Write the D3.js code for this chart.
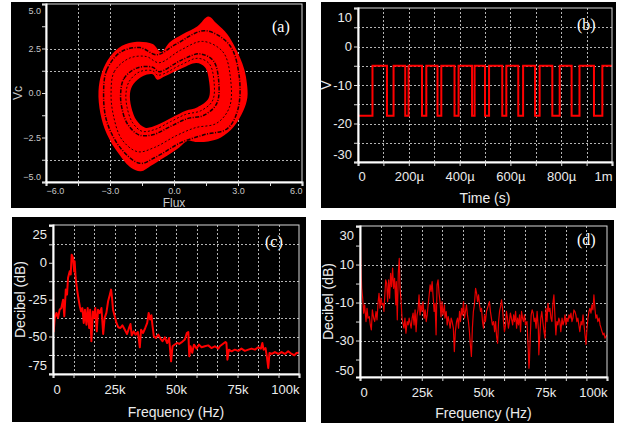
<!DOCTYPE html>
<html>
<head>
<meta charset="utf-8">
<script src="https://cdn.jsdelivr.net/npm/d3@7"></script>
<style>
  body { margin: 0; background: #fff; }
  svg { display: block; }
  text { font-family: "Liberation Sans", Arial, sans-serif; }
</style>
</head>
<body>
<svg id="fig" width="628" height="428"></svg>
<script>
// ---------- data ----------

// (a) phase portrait, Flux vs Vc
const fluxTicks = [-6, -3, 0, 3, 6];
const vcTicks = [5, 2.5, 0, -2.5, -5];
const attractorOuter = [[1.61, 4.3], [2.0, 3.9], [2.5, 3.3], [2.85, 2.6], [3.09, 2.0], [3.3, 1.3], [3.42, 0.5],
  [3.44, -0.25], [3.25, -1.0], [2.8, -1.9], [2.2, -2.5], [1.6, -2.72], [1.0, -2.75], [0.65, -2.68], [0.2, -3.1],
  [-0.5, -3.65], [-1.1, -4.1], [-1.55, -4.4], [-2.0, -4.22], [-2.6, -3.4], [-3.15, -2.3], [-3.45, -1.15],
  [-3.54, 0.1], [-3.38, 1.15], [-3.0, 2.03], [-2.44, 2.65], [-1.74, 2.88], [-1.0, 2.75], [-0.6, 2.3],
  [-0.2, 2.85], [0.4, 3.3], [1.1, 3.75]];
const attractorHole = [[-2.06, 0.0], [-1.9, 0.5], [-1.45, 0.95], [-1.0, 1.05], [-0.78, 0.75], [-0.4, 0.95],
  [0.4, 1.4], [1.05, 1.68], [1.45, 1.45], [1.65, 0.6], [1.62, -0.3], [1.1, -0.8], [0.55, -1.0], [-0.05, -1.35],
  [-0.8, -1.8], [-1.35, -1.95], [-1.75, -1.55], [-2.0, -0.8]];
// dark gaps between the red orbits
const gapOrbit0 = [[-2.25, 0.0], [-2.1, 0.65], [-1.6, 1.2], [-1.0, 1.25], [-0.75, 1.0], [0.35, 1.6], [1.1, 1.95],
  [1.65, 1.65], [1.88, 0.6], [1.8, -0.45], [1.25, -1.0], [0.55, -1.2], [-0.15, -1.6], [-0.9, -2.05],
  [-1.5, -2.15], [-1.95, -1.65], [-2.2, -0.8]];
const gapOrbit1 = [[-2.5, 0.0], [-2.35, 0.8], [-1.75, 1.4], [-1.0, 1.45], [-0.7, 1.2], [0.35, 1.85], [1.2, 2.2],
  [1.85, 1.8], [2.1, 0.6], [2.0, -0.6], [1.4, -1.25], [0.6, -1.45], [-0.2, -1.9], [-1.0, -2.35], [-1.65, -2.35],
  [-2.2, -1.7], [-2.45, -0.8]];
const gapOrbit2 = [[-2.95, 0.0], [-2.8, 1.2], [-2.1, 1.95], [-1.3, 2.05], [-0.7, 1.7], [0.3, 2.4], [1.35, 2.9],
  [2.3, 2.3], [2.65, 0.8], [2.6, -0.8], [2.0, -1.7], [1.0, -1.95], [0.1, -2.4], [-0.9, -3.05], [-1.7, -3.3],
  [-2.45, -2.6], [-2.85, -1.2]];
const gapOrbit3 = [[-3.3, 0.0], [-3.15, 1.3], [-2.5, 2.3], [-1.6, 2.55], [-0.8, 2.15], [0.1, 2.75], [1.45, 3.5],
  [2.6, 2.7], [3.05, 1.0], [3.0, -0.9], [2.5, -2.0], [1.4, -2.35], [0.3, -2.8], [-0.85, -3.6], [-1.6, -3.95],
  [-2.5, -3.1], [-3.15, -1.6]];

// (b) switching waveform, time in microseconds
const timeTicks = [0, 200, 400, 600, 800, 1000];
const timeLabels = ['0', '200µ', '400µ', '600µ', '800µ', '1m'];
const voltTicks = [10, 0, -10, -20, -30];
const switchTimes = [0, 57, 114, 140, 186, 199, 252, 269, 313, 328, 380, 396, 449, 459, 500, 516,
  568, 584, 631, 650, 697, 715, 765, 794, 841, 872, 929, 962, 1000];
const switchLevels = [-18, -5, -18, -5, -18, -5, -18, -5, -18, -5, -18, -5, -18, -5, -18, -5,
  -18, -5, -18, -5, -18, -5, -18, -5, -18, -5, -18, -5, -5];

// (c), (d) spectra, frequency in kHz
const freqTicks = [0, 25, 50, 75, 100];
const freqLabels = ['0', '25k', '50k', '75k', '100k'];
const dbTicksC = [25, 0, -25, -50, -75];
const dbTicksD = [30, 10, -10, -30, -50];
const spectrumC = [[0, -17], [0.3, -46.5], [0.7, -37.4], [1.4, -34], [2.05, -37.4], [2.7, -31.8], [3.4, -30.7],
  [4.1, -25], [4.6, -36.3], [5.2, -18.2], [5.7, -21.6], [6.1, -10.3], [6.8, -5.8], [7.2, -8], [7.6, 5.5],
  [8.15, 3.3], [8.6, -5.8], [8.8, 1], [9.2, -10.3], [9.8, -18.2], [10.3, -23.9], [10.9, -29.5], [11.4, -32.9],
  [11.95, -30.7], [12.5, -40.8], [13, -31.8], [13.6, -42], [14.1, -30.7], [14.7, -44.2], [15.1, -31.8],
  [15.6, -53.2], [16.2, -33], [16.7, -37.4], [17.2, -30.7], [17.8, -46.5], [18.3, -31.8], [19, -34],
  [19.7, -30.7], [20.4, -48.3], [21, -37.4], [21.7, -34], [22.4, -26.1], [23.1, -21.6], [23.6, -18.2],
  [24, -23.9], [24.4, -31.8], [25.1, -36.3], [25.8, -40.8], [26.5, -43.7], [27.4, -44.2], [28.2, -42.4],
  [29.2, -45.4], [30.1, -48.3], [30.9, -44.2], [31.5, -41.5], [32, -49.2], [32.8, -46.5], [33.6, -48.7],
  [34.5, -46.9], [35.3, -57.3], [35.8, -45.4], [36.6, -47.6], [37.5, -44.2], [38.3, -40.8], [38.9, -34],
  [39.5, -38.5], [40, -35.6], [40.4, -42], [41, -49.9], [41.8, -51], [42.8, -48.7], [43.7, -51.4],
  [44.5, -53.2], [45.5, -50.5], [46.4, -54.4], [47.2, -51], [48, -66.8], [48.6, -56.6], [49.5, -55.4],
  [50.5, -54.4], [51.3, -55], [52.2, -54], [53.6, -52], [54.4, -47.6], [55, -46.9], [55.4, -63.4],
  [55.9, -56.6], [56.6, -61], [57.3, -55.5], [58.4, -58.2], [59.3, -55.5], [60.4, -57.3], [61.7, -56.6],
  [63.1, -56], [64.4, -57.8], [65.8, -56.6], [67.2, -58.2], [67.8, -56.6], [70.1, -53.7], [70.5, -54.4],
  [70.9, -65.7], [71.5, -58.9], [72.6, -60], [73.9, -58.9], [75.3, -59.7], [76.6, -58.2], [78, -59.7],
  [79.4, -58.9], [80.7, -58.2], [82.1, -58.9], [83.4, -57.3], [84.5, -58.2], [85.1, -54.4], [85.6, -58.9],
  [86.4, -57.8], [87, -64.5], [87.5, -71.3], [88, -61.2], [88.9, -61.8], [90.2, -60.5], [91.6, -61.8],
  [92.9, -60.5], [94.3, -61.8], [95.6, -60], [97, -61.8], [98.1, -62.7], [99, -61.2], [100, -61]];
const spectrumD = [[0, 28], [0.14, 24.7], [0.41, 8.1], [0.68, -2.5], [1.08, -7.7], [1.49, -15.6], [1.89, -11.2],
  [2.43, -20], [2.84, -13], [3.24, -18.2], [3.78, -17.4], [4.19, -21.8], [4.59, -24.4], [5.0, -13.9],
  [5.54, -18.2], [5.95, -20], [6.49, -14.7], [6.89, -19.1], [7.3, -10.4], [7.7, -5.1], [8.1, -13], [8.5, -7.7],
  [8.9, -11.2], [9.3, -10.4], [9.7, -14.7], [10.1, -5.1], [10.4, 1.9], [10.8, 0.2], [11.2, -9.5], [11.6, 1.9],
  [12.0, -7.7], [12.4, 5.4], [12.8, -1.6], [13.2, 8.1], [13.6, -2.5], [14.0, 2.8], [14.5, -11.2], [14.7, 1.0],
  [15.1, -19.1], [15.5, 5.4], [15.9, 13.3], [16.2, -2.5], [16.6, -8.6], [17.0, -18.2], [17.4, -20.9],
  [17.8, -23.5], [18.2, -18.2], [18.6, -26.1], [19.1, -20], [19.5, -21.8], [19.9, -18.2], [20.3, -20.9],
  [20.7, -23.5], [21.1, -18.2], [21.5, -15.6], [21.9, -21.8], [22.3, -13.9], [22.7, -25.3], [23.1, -16.5],
  [23.5, -13.9], [23.9, -6.0], [24.3, -16.5], [24.7, -11.2], [25.1, -14.7], [25.5, -9.5], [26.0, -18.2],
  [26.4, -13.9], [26.8, -20], [27.2, -16.5], [27.6, -11.2], [28.0, -6.0], [28.4, -0.7], [28.8, -4.2],
  [29.2, 1.0], [29.6, -6.8], [30.0, -14.7], [30.4, -10.4], [30.8, -27], [31.2, -0.7], [31.6, 1.9], [32.0, -5.1],
  [32.4, -9.5], [32.8, -17.4], [33.2, -9.5], [33.6, -16.5], [34.2, -11.2], [34.4, -18.2], [34.9, -14.7],
  [35.3, -21.8], [35.7, -17.4], [36.1, -20], [36.5, -23.5], [36.9, -18.2], [37.3, -20], [37.8, -23.5],
  [38.2, -35.8], [38.6, -25.3], [39.1, -20], [39.5, -18.2], [39.9, -23.5], [40.3, -14.7], [40.7, -20],
  [41.1, -13], [41.5, -16.5], [41.9, -9.5], [42.3, -18.2], [42.7, -14.7], [43.1, -11.2], [43.5, -16.5],
  [43.9, -20], [44.3, -25.3], [44.7, -32.3], [45.1, -38.4], [45.5, -23.5], [45.9, -14.7], [46.3, -11.2],
  [46.8, -2.5], [47.2, -5.1], [47.6, -9.5], [48.0, -6.0], [48.4, -11.2], [48.8, -14.7], [49.2, -13],
  [49.6, -20], [50.0, -23.5], [50.4, -16.5], [50.8, -20], [51.2, -14.7], [51.6, -13], [52.0, -11.2],
  [52.4, -9.5], [52.8, -14.7], [53.2, -18.2], [53.6, -21.8], [54.1, -20], [54.5, -25.3], [54.9, -20],
  [55.3, -27.9], [55.7, -31.4], [56.1, -20], [56.5, -14.7], [56.9, -12.1], [57.3, -8.6], [57.7, -13],
  [58.1, -20], [58.5, -25.3], [58.9, -21.8], [59.3, -14.7], [59.7, -18.2], [60.1, -23.5], [60.5, -20],
  [60.9, -15.6], [61.3, -18.2], [61.8, -21.8], [62.2, -16.5], [62.6, -20], [63.0, -14.7], [63.4, -23.5],
  [63.8, -18.2], [64.2, -21.8], [64.6, -16.5], [65.0, -25.3], [65.4, -14.7], [65.8, -18.2], [66.2, -20],
  [66.6, -16.5], [67.0, -21.8], [67.6, -20], [68.1, -34], [68.4, -44.6], [68.6, -41], [68.9, -28.8],
  [69.3, -16.5], [69.7, -13.9], [70.1, -15.6], [70.5, -20], [70.9, -18.2], [71.3, -23.5], [71.7, -14.7],
  [72.2, -23.5], [72.4, -37.5], [72.8, -27], [73.2, -18.2], [73.6, -14.7], [74.0, -20], [74.5, -25.3],
  [74.9, -28.8], [75.3, -13], [75.7, -20], [76.1, -10.4], [76.5, -14.7], [76.9, -13], [77.3, -18.2],
  [77.7, -20], [78.1, -10.4], [78.5, -6.0], [78.9, -16.5], [79.3, -27], [79.7, -20], [80.1, -21.8],
  [80.5, -18.2], [80.9, -20], [81.3, -25.3], [81.8, -18.2], [82.2, -21.8], [82.6, -20], [83.0, -16.5],
  [83.4, -21.8], [83.8, -18.2], [84.2, -20], [84.6, -16.5], [85.0, -18.2], [85.4, -15.6], [85.8, -20],
  [86.2, -18.2], [86.6, -13.9], [87.0, -14.7], [87.4, -16.5], [87.8, -20], [88.2, -18.2], [88.6, -21.8],
  [89.0, -25.3], [89.5, -20], [89.9, -21.8], [90.3, -16.5], [90.7, -21.8], [91.1, -27], [91.5, -32],
  [91.9, -23.5], [92.3, -18.2], [92.7, -14.7], [93.1, -13], [93.5, -15.6], [93.9, -11.2], [94.3, -13.9],
  [94.7, -6.0], [95.1, -13], [95.5, -18.2], [95.9, -16.5], [96.3, -20], [96.8, -18.2], [97.2, -21.8],
  [97.6, -23.5], [98.0, -25.3], [98.4, -27], [98.8, -26.1], [99.2, -28.8], [99.6, -27.9], [100, -27]];

// ---------- drawing ----------
const svg = d3.select('#fig');

function drawPanel(o) {
  let g = svg.append('g');
  g.append('rect')
    .attr('x', o.bg[0]).attr('y', o.bg[1])
    .attr('width', o.bg[2] - o.bg[0]).attr('height', o.bg[3] - o.bg[1])
    .attr('fill', '#000');

  let x = d3.scaleLinear().domain(o.xDomain).range([o.plot[0], o.plot[2]]);
  let y = d3.scaleLinear().domain(o.yDomain).range([o.plot[3], o.plot[1]]);

  // dotted grid
  let grid = g.append('g')
    .attr('stroke', '#b4b4b4')
    .attr('stroke-width', 1)
    .attr('stroke-dasharray', '2,2');
  grid.selectAll('.vx').data(o.xGrid).join('line')
    .attr('x1', d => Math.round(x(d)) + 0.5).attr('x2', d => Math.round(x(d)) + 0.5)
    .attr('y1', o.plot[1]).attr('y2', o.plot[3]);
  grid.selectAll('.hy').data(o.yGrid).join('line')
    .attr('y1', d => Math.round(y(d)) + 0.5).attr('y2', d => Math.round(y(d)) + 0.5)
    .attr('x1', o.plot[0]).attr('x2', o.plot[2]);

  let clipId = 'clip' + o.name;
  g.append('clipPath').attr('id', clipId)
    .append('rect')
    .attr('x', o.plot[0]).attr('y', o.plot[1])
    .attr('width', o.plot[2] - o.plot[0]).attr('height', o.plot[3] - o.plot[1]);
  let layer = g.append('g').attr('clip-path', `url(#${clipId})`);

  // frame
  g.append('rect')
    .attr('x', o.plot[0]).attr('y', o.plot[1])
    .attr('width', o.plot[2] - o.plot[0]).attr('height', o.plot[3] - o.plot[1])
    .attr('fill', 'none').attr('stroke', '#d8d8d8').attr('stroke-width', 1);

  // small tick marks
  let xAxis = g.append('g')
    .attr('transform', `translate(0, ${o.plot[3]})`)
    .call(d3.axisBottom(x).tickValues(o.xMinor).tickSize(4).tickFormat(''));
  let yAxis = g.append('g')
    .attr('transform', `translate(${o.plot[0]}, 0)`)
    .call(d3.axisLeft(y).tickValues(o.yMinor).tickSize(4).tickFormat(''));
  [xAxis, yAxis].forEach(a => {
    a.select('.domain').attr('stroke', '#fff').attr('stroke-width', 2);
    a.selectAll('.tick line').attr('stroke', '#ddd');
  });

  // tick labels
  let xl = g.append('g')
    .attr('transform', `translate(0, ${o.plot[3]})`)
    .call(d3.axisBottom(x).tickValues(o.xTicks).tickSize(0).tickPadding(o.xPad)
      .tickFormat((d, i) => o.xLabels[i]));
  let yl = g.append('g')
    .attr('transform', `translate(${o.plot[0]}, 0)`)
    .call(d3.axisLeft(y).tickValues(o.yTicks).tickSize(0).tickPadding(o.yPad)
      .tickFormat((d, i) => o.yLabels[i]));
  [xl, yl].forEach(a => {
    a.select('.domain').remove();
    a.selectAll('text')
      .attr('fill', o.tickColor)
      .style('font-size', o.tickSize + 'px')
      .style('font-family', '"Liberation Sans", Arial, sans-serif');
  });
  let xt = xl.selectAll('text').nodes();
  d3.select(xt[0]).attr('text-anchor', 'start');
  d3.select(xt[xt.length - 1]).attr('text-anchor', 'end');
  let yt = yl.selectAll('text').nodes();
  d3.select(yt[0]).attr('dy', '1.0em');
  d3.select(yt[yt.length - 1]).attr('dy', '-0.3em');

  // axis titles
  g.append('text')
    .attr('x', (o.plot[0] + o.plot[2]) / 2).attr('y', o.xTitleY)
    .attr('text-anchor', 'middle')
    .attr('fill', o.titleColor)
    .style('font-size', o.titleSize + 'px')
    .text(o.xTitle);
  g.append('text')
    .attr('transform', `translate(${o.yTitleX}, ${(o.plot[1] + o.plot[3]) / 2}) rotate(-90)`)
    .attr('text-anchor', 'middle')
    .attr('fill', o.titleColor)
    .style('font-size', o.titleSize + 'px')
    .text(o.yTitle);

  // panel tag
  g.append('text')
    .attr('x', o.tag[0]).attr('y', o.tag[1])
    .attr('fill', '#fff')
    .style('font-family', '"Liberation Serif", "DejaVu Serif", serif')
    .style('font-size', '16px')
    .text(o.tag[2]);

  return {x, y, layer};
}

function range(a, b, s) {
  return d3.range(a, b + s / 2, s);
}

// (a)
let pa = drawPanel({
  name: 'a', bg: [11, 2, 306, 208], plot: [46, 4, 302, 182],
  xDomain: [-6, 6], yDomain: [-5, 5],
  xGrid: [-4.5, -3, 0, 3], yGrid: [2.5, 1.25, -3.75],
  xMinor: range(-6, 6, 1.5), yMinor: range(-5, 5, 1.25),
  xTicks: fluxTicks, xLabels: fluxTicks.map(d3.format('.1f')),
  yTicks: vcTicks, yLabels: vcTicks.map(d3.format('.1f')),
  xPad: 6, yPad: 5, tickSize: 9, tickColor: '#c8c8c8',
  xTitle: 'Flux', xTitleY: 207, yTitle: 'Vc', yTitleX: 22,
  titleSize: 12, titleColor: '#c8c8c8',
  tag: [272, 32, '(a)']
});
let loop = d3.line()
  .x(d => pa.x(d[0])).y(d => pa.y(d[1]))
  .curve(d3.curveCatmullRomClosed.alpha(0.5));
pa.layer.append('path')
  .attr('d', loop(attractorOuter) + loop(attractorHole))
  .attr('fill', '#f00')
  .attr('fill-rule', 'evenodd');
[gapOrbit0, gapOrbit1, gapOrbit2, gapOrbit3].forEach((orbit, i) => {
  pa.layer.append('path')
    .attr('d', loop(orbit))
    .attr('fill', 'none')
    .attr('stroke', '#1a0000')
    .attr('stroke-width', i % 2 ? 1.5 : 1)
    .attr('stroke-dasharray', i % 2 ? '4,1.5,1,1.5' : '2,2');
});

// (b)
let pb = drawPanel({
  name: 'b', bg: [321, 2, 616, 208], plot: [358, 8, 612, 162],
  xDomain: [0, 1000], yDomain: [-30, 10],
  xGrid: range(100, 900, 100), yGrid: range(-25, 5, 5),
  xMinor: range(0, 1000, 100), yMinor: range(-30, 10, 5),
  xTicks: timeTicks, xLabels: timeLabels,
  yTicks: voltTicks, yLabels: voltTicks.map(String),
  xPad: 10, yPad: 6, tickSize: 13, tickColor: '#ececec',
  xTitle: 'Time (s)', xTitleY: 203, yTitle: 'V', yTitleX: 331,
  titleSize: 14, titleColor: '#ececec',
  tag: [577, 30, '(b)']
});
pb.layer.append('path')
  .attr('d', d3.line()
    .x((d, i) => pb.x(switchTimes[i]))
    .y(d => pb.y(d))
    .curve(d3.curveStepAfter)(switchLevels))
  .attr('fill', 'none')
  .attr('stroke', '#f00')
  .attr('stroke-width', 2);

// (c)
let pc = drawPanel({
  name: 'c', bg: [12, 217, 306, 422], plot: [53, 225, 299, 374],
  xDomain: [0, 100], yDomain: [-75.4, 25.6],
  xGrid: range(100 / 12, 1100 / 12, 100 / 12), yGrid: [12.5, -12.5, -37.5, -50, -62.5],
  xMinor: range(0, 100, 100 / 12), yMinor: range(-75, 25, 12.5),
  xTicks: freqTicks, xLabels: freqLabels,
  yTicks: dbTicksC, yLabels: dbTicksC.map(String),
  xPad: 11, yPad: 6, tickSize: 13, tickColor: '#ececec',
  xTitle: 'Frequency (Hz)', xTitleY: 417, yTitle: 'Decibel (dB)', yTitleX: 25,
  titleSize: 14, titleColor: '#ececec',
  tag: [265, 247, '(c)']
});
pc.layer.append('path')
  .attr('d', d3.line().x(d => pc.x(d[0])).y(d => pc.y(d[1]))(spectrumC))
  .attr('fill', 'none')
  .attr('stroke', '#f00')
  .attr('stroke-width', 2)
  .attr('stroke-linejoin', 'round');

// (d)
let pd = drawPanel({
  name: 'd', bg: [321, 220, 614, 423], plot: [360, 226, 607, 377],
  xDomain: [0, 100], yDomain: [-49.2, 30.3],
  xGrid: range(100 / 12, 1100 / 12, 100 / 12), yGrid: [10, -10, -30],
  xMinor: range(0, 100, 100 / 12), yMinor: range(-40, 30, 10),
  xTicks: freqTicks, xLabels: freqLabels,
  yTicks: dbTicksD, yLabels: dbTicksD.map(String),
  xPad: 11, yPad: 6, tickSize: 13, tickColor: '#ececec',
  xTitle: 'Frequency (Hz)', xTitleY: 418, yTitle: 'Decibel (dB)', yTitleX: 333,
  titleSize: 14, titleColor: '#ececec',
  tag: [577, 245, '(d)']
});
pd.layer.append('path')
  .attr('d', d3.line().x(d => pd.x(d[0])).y(d => pd.y(d[1]))(spectrumD))
  .attr('fill', 'none')
  .attr('stroke', '#e80000')
  .attr('stroke-width', 1.2)
  .attr('stroke-linejoin', 'round');
</script>
</body>
</html>
